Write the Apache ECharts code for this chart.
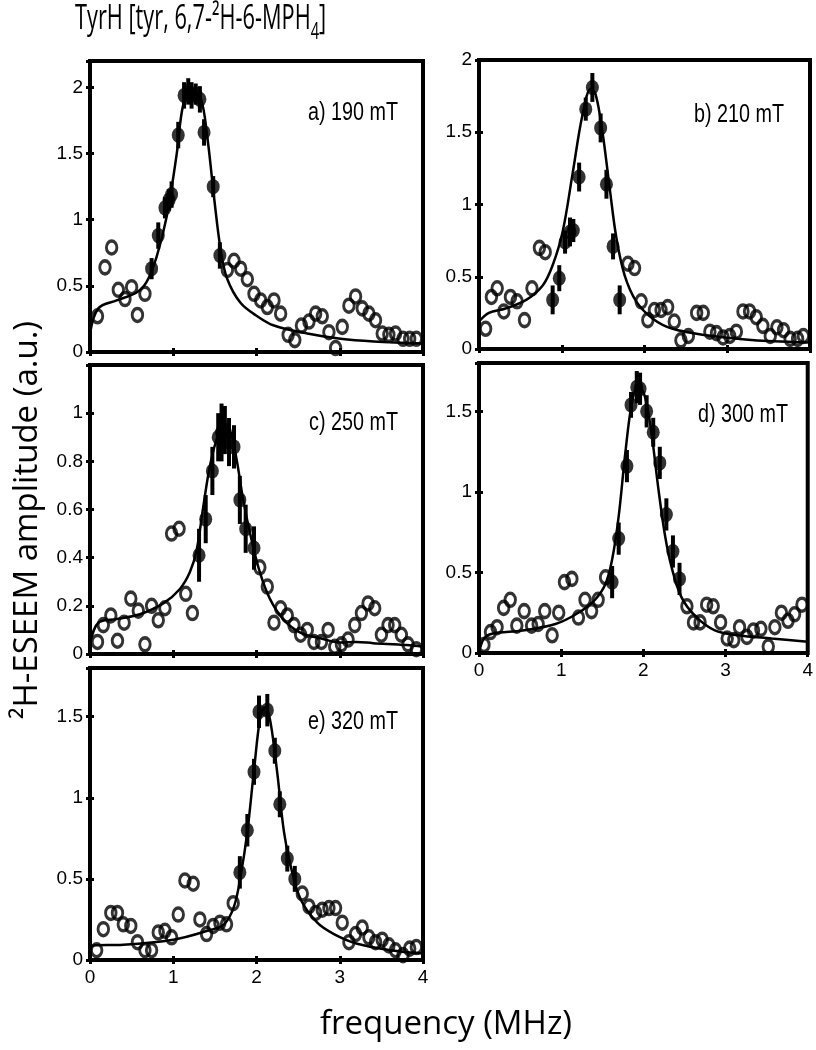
<!DOCTYPE html>
<html><head><meta charset="utf-8">
<script src="https://cdn.jsdelivr.net/npm/echarts@6/dist/echarts.min.js"></script>
<style>html,body{margin:0;padding:0;background:#fff}#c{width:816px;height:1050px}</style>
</head><body><div id="c"></div>
<script>
// ---------- tick labels ----------
const freqTicks = [0, 1, 2, 3, 4];

// ---------- panel a) 190 mT ----------
const aLabel = 'a) 190 mT';
const aOpenX = [0.09,0.18,0.26,0.34,0.42,0.50,0.57,0.66,1.65,1.73,1.81,1.89,1.97,2.05,2.13,2.21,2.29,2.38,2.46,2.54,2.63,2.71,2.79,2.87,2.95,3.03,3.11,3.19,3.27,3.35,3.43,3.51,3.59,3.67,3.76,3.84,3.92];
const aOpenY = [0.27,0.64,0.79,0.47,0.40,0.49,0.28,0.44,0.62,0.69,0.63,0.55,0.44,0.39,0.34,0.39,0.29,0.13,0.09,0.20,0.23,0.29,0.27,0.15,0.03,0.19,0.35,0.42,0.33,0.29,0.24,0.14,0.13,0.14,0.10,0.10,0.10];
const aFillX = [0.74,0.82,0.90,0.95,0.98,1.06,1.13,1.18,1.22,1.27,1.32,1.37,1.48,1.56];
const aFillY = [0.63,0.88,1.09,1.15,1.19,1.64,1.94,1.97,1.94,1.95,1.91,1.66,1.25,0.73];
const aFillE = [0.08,0.10,0.08,0.08,0.10,0.10,0.10,0.10,0.10,0.08,0.10,0.10,0.08,0.10];
const aFitX = [0,0.10,0.32,0.56,0.68,0.80,0.92,1.04,1.12,1.22,1.33,1.41,1.49,1.57,1.65,1.81,2.01,2.21,2.61,3.01,3.41,4.0];
const aFitY = [0.14,0.33,0.39,0.45,0.53,0.72,1.02,1.49,1.87,1.98,1.92,1.62,1.17,0.77,0.55,0.37,0.27,0.20,0.14,0.10,0.08,0.065];

// ---------- panel b) 210 mT ----------
const bLabel = 'b) 210 mT';
const bOpenX = [0.08,0.15,0.22,0.30,0.38,0.46,0.55,0.64,0.73,0.80,1.80,1.88,1.96,2.04,2.12,2.20,2.28,2.36,2.44,2.53,2.63,2.71,2.79,2.87,2.95,3.03,3.11,3.19,3.27,3.35,3.43,3.52,3.60,3.68,3.76,3.85,3.92];
const bOpenY = [0.14,0.36,0.42,0.26,0.36,0.33,0.20,0.42,0.70,0.67,0.59,0.56,0.33,0.20,0.27,0.27,0.29,0.19,0.06,0.09,0.25,0.25,0.12,0.11,0.08,0.09,0.12,0.26,0.26,0.22,0.16,0.09,0.15,0.13,0.07,0.07,0.09];
const bFillX = [0.89,0.97,1.04,1.10,1.14,1.21,1.29,1.37,1.47,1.54,1.62,1.70];
const bFillY = [0.34,0.49,0.74,0.81,0.82,1.19,1.66,1.81,1.53,1.14,0.71,0.34];
const bFillE = [0.10,0.09,0.08,0.10,0.08,0.10,0.08,0.10,0.10,0.10,0.09,0.10];
const bFitX = [0,0.12,0.32,0.57,0.77,0.89,1.01,1.13,1.25,1.35,1.41,1.49,1.58,1.66,1.76,1.90,2.10,2.34,2.75,3.15,3.56,4.0];
const bFitY = [0.19,0.25,0.28,0.34,0.44,0.58,0.81,1.21,1.62,1.80,1.76,1.51,1.11,0.77,0.51,0.33,0.21,0.14,0.095,0.07,0.053,0.045];

// ---------- panel c) 250 mT ----------
const cLabel = 'c) 250 mT';
const cOpenX = [0.09,0.16,0.25,0.33,0.41,0.49,0.58,0.66,0.74,0.82,0.90,0.98,1.07,1.15,1.23,2.04,2.13,2.21,2.29,2.37,2.45,2.53,2.61,2.69,2.78,2.86,2.94,3.02,3.10,3.18,3.26,3.34,3.42,3.50,3.58,3.66,3.74,3.82,3.92];
const cOpenY = [0.05,0.12,0.16,0.055,0.13,0.23,0.18,0.04,0.20,0.14,0.19,0.50,0.52,0.25,0.17,0.36,0.28,0.13,0.19,0.16,0.12,0.08,0.10,0.05,0.05,0.10,0.03,0.04,0.06,0.12,0.17,0.21,0.19,0.08,0.12,0.12,0.08,0.04,0.02];
const cFillX = [1.31,1.39,1.47,1.54,1.58,1.62,1.67,1.73,1.80,1.87,1.97];
const cFillY = [0.41,0.56,0.76,0.90,0.92,0.93,0.88,0.86,0.64,0.52,0.44];
const cFillE = [0.11,0.10,0.10,0.10,0.12,0.10,0.10,0.09,0.10,0.10,0.09];
const cFitX = [0,0.10,0.32,0.60,0.88,1.08,1.20,1.28,1.36,1.44,1.54,1.62,1.68,1.76,1.84,1.94,2.04,2.16,2.32,2.52,2.80,3.00,3.20,3.40,3.80,4.0];
const cFitY = [0.04,0.13,0.145,0.165,0.21,0.27,0.34,0.43,0.61,0.78,0.91,0.94,0.93,0.81,0.64,0.475,0.34,0.23,0.145,0.09,0.062,0.048,0.05,0.045,0.037,0.03];

// ---------- panel d) 300 mT ----------
const dLabel = 'd) 300 mT';
const dOpenX = [0.06,0.14,0.22,0.30,0.38,0.46,0.55,0.64,0.72,0.80,0.89,0.97,1.04,1.13,1.21,1.29,1.37,1.45,1.54,2.53,2.61,2.69,2.77,2.85,2.94,3.02,3.10,3.17,3.26,3.34,3.43,3.52,3.60,3.68,3.76,3.84,3.93];
const dOpenY = [0.05,0.13,0.16,0.28,0.33,0.17,0.26,0.17,0.18,0.26,0.11,0.25,0.44,0.46,0.22,0.33,0.26,0.33,0.47,0.29,0.19,0.19,0.30,0.29,0.19,0.09,0.08,0.16,0.10,0.14,0.15,0.04,0.16,0.25,0.20,0.24,0.30];
const dFillX = [1.62,1.70,1.80,1.85,1.92,1.96,2.04,2.12,2.20,2.28,2.36,2.44];
const dFillY = [0.44,0.71,1.16,1.54,1.65,1.64,1.50,1.37,1.18,0.86,0.63,0.46];
const dFillE = [0.10,0.10,0.10,0.08,0.10,0.10,0.10,0.09,0.10,0.10,0.10,0.10];
const dFitX = [0,0.06,0.16,0.53,0.93,1.21,1.41,1.54,1.62,1.70,1.78,1.86,1.94,2.02,2.10,2.18,2.26,2.34,2.46,2.63,2.87,3.15,3.56,4.0];
const dFitY = [0.0,0.09,0.12,0.14,0.18,0.25,0.33,0.43,0.58,0.85,1.24,1.55,1.66,1.59,1.36,1.03,0.74,0.54,0.35,0.23,0.14,0.11,0.09,0.07];

// ---------- panel e) 320 mT ----------
const eLabel = 'e) 320 mT';
const eOpenX = [0.08,0.16,0.25,0.33,0.40,0.49,0.57,0.66,0.74,0.82,0.90,0.98,1.06,1.14,1.24,1.32,1.40,1.48,1.56,1.64,1.72,2.55,2.63,2.71,2.79,2.87,2.95,3.03,3.11,3.19,3.27,3.35,3.43,3.51,3.59,3.67,3.76,3.84,3.92];
const eOpenY = [0.06,0.19,0.29,0.29,0.22,0.21,0.11,0.06,0.06,0.17,0.18,0.14,0.28,0.49,0.47,0.25,0.16,0.21,0.23,0.22,0.35,0.41,0.33,0.29,0.31,0.32,0.32,0.23,0.11,0.16,0.20,0.14,0.11,0.125,0.09,0.06,0.03,0.07,0.08];
const eFillX = [1.80,1.89,1.97,2.03,2.13,2.22,2.28,2.37,2.46];
const eFillY = [0.54,0.80,1.16,1.53,1.54,1.29,0.96,0.625,0.50];
const eFillE = [0.10,0.10,0.08,0.10,0.10,0.08,0.08,0.08,0.08];
const eFitX = [0,0.04,0.40,1.00,1.41,1.61,1.73,1.81,1.89,1.97,2.05,2.11,2.17,2.25,2.33,2.41,2.53,2.73,2.93,3.21,3.61,4.0];
const eFitY = [0.04,0.09,0.094,0.125,0.18,0.22,0.33,0.52,0.79,1.17,1.51,1.56,1.46,1.15,0.79,0.58,0.375,0.23,0.16,0.10,0.06,0.04];

// ---------- texts ----------
const titleMain = 'TyrH [tyr, 6,7-²H-6-MPH';
const titleSub = '4';
const titleEnd = ']';
const yTitle = '²H-ESEEM amplitude (a.u.)';
const xTitle = 'frequency (MHz)';

// ---------- layout (positions/styles only) ----------
const panels = [
  {label:aLabel, ox:aOpenX, oy:aOpenY, fx:aFillX, fy:aFillY, fe:aFillE, cx:aFitX, cy:aFitY, ymax:2.2, yint:0.5, showMax:false, showX:false, g:[90,61,333,291], lab:[398,113]},
  {label:bLabel, ox:bOpenX, oy:bOpenY, fx:bFillX, fy:bFillY, fe:bFillE, cx:bFitX, cy:bFitY, ymax:2.0, yint:0.5, showMax:true,  showX:false, g:[479,60,331,289], lab:[784,115]},
  {label:cLabel, ox:cOpenX, oy:cOpenY, fx:cFillX, fy:cFillY, fe:cFillE, cx:cFitX, cy:cFitY, ymax:1.2, yint:0.2, showMax:false, showX:false, g:[90,365,333,289], lab:[398,423]},
  {label:dLabel, ox:dOpenX, oy:dOpenY, fx:dFillX, fy:dFillY, fe:dFillE, cx:dFitX, cy:dFitY, ymax:1.8, yint:0.5, showMax:false, showX:true,  g:[479,363,331,290], lab:[788,415]},
  {label:eLabel, ox:eOpenX, oy:eOpenY, fx:eFillX, fy:eFillY, fe:eFillE, cx:eFitX, cy:eFitY, ymax:1.8, yint:0.5, showMax:false, showX:true,  g:[90,668,333,292], lab:[398,722]}
];

const tickFont = "'Liberation Sans Narrow', 'Liberation Sans', Arial, sans-serif";
const grids = [], xAxes = [], yAxes = [], series = [], graphics = [];
const tick = {show:true, inside:true, length:4, lineStyle:{color:'#000', width:3}};

panels.forEach((p, i) => {
  grids.push({left:p.g[0], top:p.g[1], width:p.g[2], height:p.g[3], show:true, borderColor:'#000', borderWidth:4, backgroundColor:'transparent'});
  xAxes.push({type:'value', gridIndex:i, position:'bottom', min:freqTicks[0], max:freqTicks[freqTicks.length-1], interval:1,
    axisLine:{show:false}, axisTick:tick, splitLine:{show:false},
    axisLabel:{show:p.showX, color:'#000', fontFamily:tickFont, fontSize:19, margin:8,
      formatter: v => freqTicks.includes(v) ? String(v) : ''}});
  xAxes.push({type:'value', gridIndex:i, position:'top', min:0, max:4, interval:1,
    axisLine:{show:false}, axisTick:tick, splitLine:{show:false}, axisLabel:{show:false}});
  yAxes.push({type:'value', gridIndex:i, position:'left', min:0, max:p.ymax, interval:p.yint,
    axisLine:{show:false}, axisTick:tick, splitLine:{show:false},
    axisLabel:{show:true, showMaxLabel:p.showMax, color:'#000', fontFamily:tickFont, fontSize:19, margin:7,
      formatter: v => String(Math.round(v*10)/10)}});
  yAxes.push({type:'value', gridIndex:i, position:'right', min:0, max:p.ymax, interval:p.yint,
    axisLine:{show:false}, axisTick:tick, splitLine:{show:false}, axisLabel:{show:false}});
  const xi = 2*i, yi = 2*i;
  series.push({type:'line', xAxisIndex:xi, yAxisIndex:yi, data:p.cx.map((x,k)=>[x,p.cy[k]]),
    smooth:0.35, showSymbol:false, symbol:'none', lineStyle:{color:'#000', width:2.5}, z:2, silent:true});
  series.push({type:'scatter', xAxisIndex:xi, yAxisIndex:yi, data:p.ox.map((x,k)=>[x,p.oy[k]]),
    symbol:'circle', symbolSize:[10.5,13], itemStyle:{color:'rgba(255,255,255,0)', borderColor:'#000', borderWidth:3.2}, z:3});
  series.push({type:'custom', xAxisIndex:xi, yAxisIndex:yi, data:p.fx.map((x,k)=>[x,p.fy[k],p.fe[k]]),
    renderItem:(params, api) => {
      const x = api.value(0), y = api.value(1), e = api.value(2);
      const p1 = api.coord([x, y-e]), p2 = api.coord([x, y+e]);
      return {type:'line', shape:{x1:p1[0], y1:p1[1], x2:p2[0], y2:p2[1]}, style:{stroke:'#000', lineWidth:4}};
    }, z:4});
  series.push({type:'scatter', xAxisIndex:xi, yAxisIndex:yi, data:p.fx.map((x,k)=>[x,p.fy[k]]),
    symbol:'circle', symbolSize:[13,15], itemStyle:{color:'#000'}, z:5});
  graphics.push({type:'text', x:p.lab[0], y:p.lab[1], z:10, scaleX:0.76,
    style:{text:p.label, fill:'#000', font:"26px 'Liberation Sans', sans-serif", textAlign:'right', textVerticalAlign:'middle'}});
});

graphics.push({type:'text', x:75, y:21, z:10, scaleX:0.64,
  style:{text:'{a|'+titleMain+'}{s|'+titleSub+'}{a|'+titleEnd+'}', textVerticalAlign:'middle', textAlign:'left',
    rich:{a:{fontFamily:'Open Sans', fontSize:34, fill:'#000', lineHeight:38, verticalAlign:'top'},
          s:{fontFamily:'Open Sans', fontSize:23, fill:'#000', lineHeight:38, verticalAlign:'top', padding:[19,0,0,0]}}}});
graphics.push({type:'text', x:28, y:520, rotation:Math.PI/2, z:10,
  style:{text:yTitle, fill:'#000', font:"33px 'Open Sans', sans-serif", textAlign:'center', textVerticalAlign:'middle'}});
graphics.push({type:'text', x:446, y:1025, z:10,
  style:{text:xTitle, fill:'#000', font:"33px 'Open Sans', sans-serif", textAlign:'center', textVerticalAlign:'middle'}});

const chart = echarts.init(document.getElementById('c'), null, {renderer:'canvas'});
chart.setOption({animation:false, backgroundColor:'#fff', grid:grids, xAxis:xAxes, yAxis:yAxes, series:series, graphic:graphics});
</script></body></html>
